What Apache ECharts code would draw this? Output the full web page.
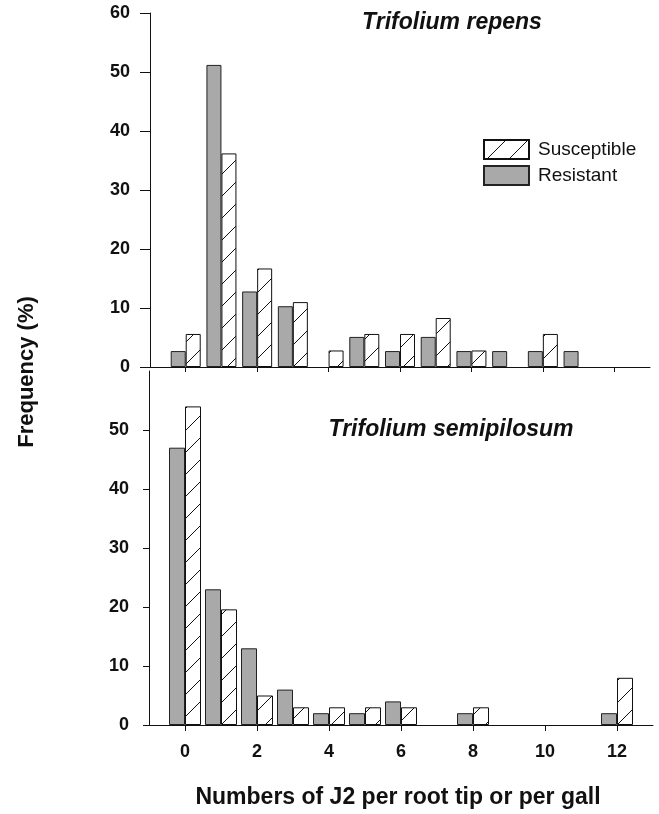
<!DOCTYPE html>
<html>
<head>
<meta charset="utf-8">
<script src="https://cdn.jsdelivr.net/npm/echarts@6/dist/echarts.min.js"></script>
<style>
  html, body { margin: 0; padding: 0; background: #fff; }
  #chart1 { width: 659px; height: 814px; }
</style>
</head>
<body>
<div id="chart1"></div>
<script>
// number of J2 per root tip / gall
var counts = [0, 1, 2, 3, 4, 5, 6, 7, 8, 9, 10, 11, 12];
var xTicks = [0, 2, 4, 6, 8, 10, 12];

// Trifolium repens, frequency (%)
var repensResistant   = [2.7, 51.2, 12.8, 10.3, null, 5.1, 2.7, 5.1, 2.7, 2.7, 2.7, 2.7, null];
var repensSusceptible = [5.6, 36.2, 16.7, 11.0, 2.8, 5.6, 5.6, 8.3, 2.8, null, 5.6, null, null];

// Trifolium semipilosum, frequency (%)
var semiResistant   = [47, 23, 13, 6, 2, 2, 4, null, 2, null, null, null, 2];
var semiSusceptible = [54, 19.6, 5, 3, 3, 3, 3, null, 3, null, null, null, 8];

var FONT = "'Liberation Sans', Arial, sans-serif";

function toPairs(vals) {
    var out = [];
    counts.forEach(function(c, i) {
        if (vals[i] != null) out.push([c, vals[i]]);
    });
    return out;
}

// diagonal hatch for the susceptible bars
function hatchPattern() {
    var c = document.createElement('canvas');
    c.width = 22;
    c.height = 22;
    var g = c.getContext('2d');
    g.fillStyle = '#fff';
    g.fillRect(0, 0, 22, 22);
    g.strokeStyle = '#111';
    g.lineWidth = 1;
    g.beginPath();
    g.moveTo(0, 22);
    g.lineTo(22, 0);
    g.stroke();
    return { image: c, repeat: 'repeat' };
}
var hatch = hatchPattern();

var resStyle = { color: '#a9a9a9', borderColor: '#222', borderWidth: 1 };
var susStyle = { color: hatch, borderColor: '#111', borderWidth: 1 };

function xAxisOpt(gridIndex, showLabels, tickLen) {
    return {
        type: 'value',
        gridIndex: gridIndex,
        min: -1,
        max: 13,
        splitLine: { show: false },
        axisLine: { onZero: false, lineStyle: { color: '#111', width: 1 } },
        axisTick: { show: true, length: tickLen, customValues: xTicks, lineStyle: { color: '#111' } },
        axisLabel: {
            show: showLabels,
            customValues: xTicks,
            margin: 18,
            color: '#111',
            fontSize: 18,
            fontWeight: 'bold',
            fontFamily: FONT
        }
    };
}

function yAxisOpt(gridIndex, tickLen, showMax) {
    return {
        type: 'value',
        gridIndex: gridIndex,
        min: 0,
        max: 60,
        interval: 10,
        splitLine: { show: false },
        axisLine: { show: true, onZero: false, lineStyle: { color: '#111', width: 1 } },
        axisTick: { show: true, length: tickLen, lineStyle: { color: '#111' } },
        axisLabel: {
            showMaxLabel: showMax,
            margin: 20,
            color: '#111',
            fontSize: 18,
            fontWeight: 'bold',
            fontFamily: FONT
        }
    };
}

var option = {
    backgroundColor: '#fff',
    animation: false,
    title: [{
        text: 'Trifolium repens',
        left: 447,
        top: 6,
        textAlign: 'center',
        textStyle: { fontFamily: FONT, fontSize: 23, fontWeight: 'bold', fontStyle: 'italic', color: '#111' }
    }, {
        text: 'Trifolium semipilosum',
        left: 446,
        top: 413,
        textAlign: 'center',
        textStyle: { fontFamily: FONT, fontSize: 23, fontWeight: 'bold', fontStyle: 'italic', color: '#111' }
    }],
    legend: {
        data: ['Susceptible', 'Resistant'],
        orient: 'vertical',
        left: 478,
        top: 134,
        itemWidth: 45,
        itemHeight: 19,
        itemGap: 5,
        icon: 'rect',
        textStyle: { fontFamily: FONT, fontSize: 19, color: '#111', padding: [0, 0, 0, 4] }
    },
    grid: [
        { left: 150, top: 13, width: 500, height: 354 },
        { left: 149, top: 371, width: 504, height: 354 }
    ],
    xAxis: [xAxisOpt(0, false, 5), xAxisOpt(1, true, 6)],
    yAxis: [yAxisOpt(0, 10, true), yAxisOpt(1, 6, false)],
    graphic: [{
        type: 'text',
        x: 27,
        y: 372,
        rotation: Math.PI / 2,
        style: {
            text: 'Frequency (%)',
            font: 'bold 22px ' + FONT,
            fill: '#111',
            align: 'center',
            verticalAlign: 'middle'
        }
    }, {
        type: 'text',
        x: 398,
        y: 798,
        style: {
            text: 'Numbers of J2 per root tip or per gall',
            font: 'bold 23px ' + FONT,
            fill: '#111',
            align: 'center',
            verticalAlign: 'middle'
        }
    }],
    series: [{
        name: 'Resistant',
        type: 'bar',
        xAxisIndex: 0,
        yAxisIndex: 0,
        barWidth: 15,
        barGap: '0%',
        itemStyle: resStyle,
        data: toPairs(repensResistant)
    }, {
        name: 'Susceptible',
        type: 'bar',
        xAxisIndex: 0,
        yAxisIndex: 0,
        barWidth: 15,
        barGap: '0%',
        itemStyle: susStyle,
        data: toPairs(repensSusceptible)
    }, {
        name: 'Resistant',
        type: 'bar',
        xAxisIndex: 1,
        yAxisIndex: 1,
        barWidth: 16,
        barGap: '0%',
        itemStyle: resStyle,
        data: toPairs(semiResistant)
    }, {
        name: 'Susceptible',
        type: 'bar',
        xAxisIndex: 1,
        yAxisIndex: 1,
        barWidth: 16,
        barGap: '0%',
        itemStyle: susStyle,
        data: toPairs(semiSusceptible)
    }]
};

var myChart = echarts.init(document.getElementById('chart1'), null, { renderer: 'canvas' });
myChart.setOption(option);
</script>
</body>
</html>
